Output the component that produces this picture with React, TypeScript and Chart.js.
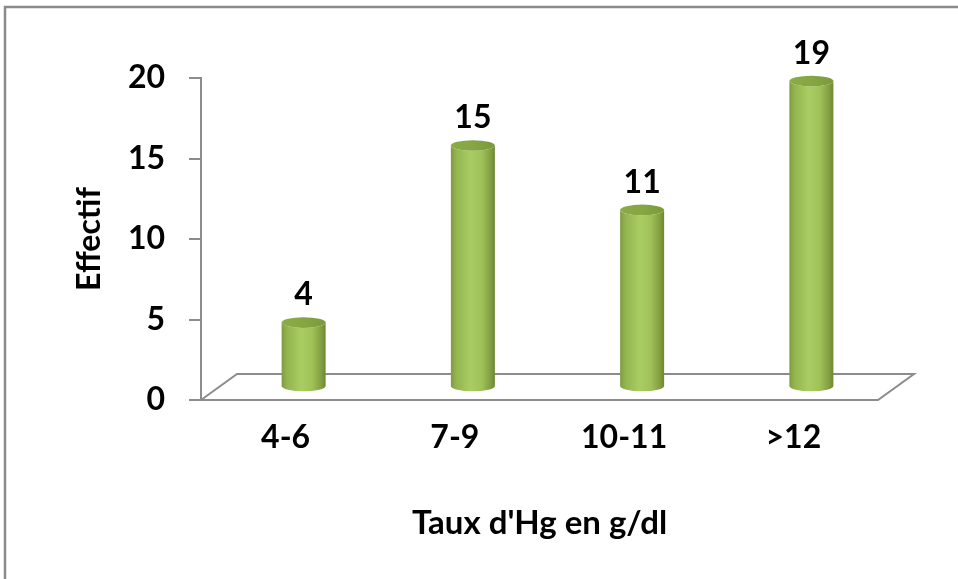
import React, { useEffect, useRef } from "react";
import { Chart, registerables } from "chart.js";

Chart.register(...registerables);

const categories = ["4-6", "7-9", "10-11", ">12"];
const values = [4, 15, 11, 19];
const yMin = 0;
const yMax = 20;
const yStep = 5;
const yTitle = "Effectif";
const xTitle = "Taux d'Hg en g/dl";

const FONT = "Lato, 'Open Sans', sans-serif";
const AXIS_GRAY = "#8c8c8c";
const DEPTH_X = 36;
const DEPTH_Y = 26;

const framePlugin = {
  id: "frame",
  beforeDraw(chart: any) {
    const { ctx, width, height } = chart;
    ctx.save();
    ctx.fillStyle = "#ffffff";
    ctx.fillRect(0, 0, width, height);
    ctx.strokeStyle = "#8a8a8a";
    ctx.lineWidth = 2.5;
    ctx.beginPath();
    ctx.moveTo(5, height);
    ctx.lineTo(5, 7);
    ctx.lineTo(width, 7);
    ctx.stroke();
    ctx.restore();
  },
};

const floorPlugin = {
  id: "floor",
  beforeDatasetsDraw(chart: any) {
    const { ctx } = chart;
    const x = chart.scales.x;
    const y = chart.scales.y;
    const base = y.getPixelForValue(0);
    ctx.save();
    ctx.strokeStyle = AXIS_GRAY;
    ctx.lineWidth = 2;
    ctx.beginPath();
    ctx.moveTo(x.left, base);
    ctx.lineTo(x.left + DEPTH_X, base - DEPTH_Y);
    ctx.lineTo(x.right + DEPTH_X, base - DEPTH_Y);
    ctx.lineTo(x.right, base);
    ctx.closePath();
    ctx.stroke();
    ctx.restore();
  },
};

const cylinderPlugin = {
  id: "cylinders",
  afterDatasetsDraw(chart: any) {
    const { ctx } = chart;
    const meta = chart.getDatasetMeta(0);
    const ds = chart.data.datasets[0];
    meta.data.forEach((el: any, i: number) => {
      const p = el.getProps(["x", "y", "base", "width"], true);
      const cx = p.x + DEPTH_X / 2;
      const top = p.y - DEPTH_Y / 2;
      const bottom = p.base - DEPTH_Y / 2;
      const rx = p.width / 2;
      const ry = rx * 0.24;

      const g = ctx.createLinearGradient(cx - rx, 0, cx + rx, 0);
      g.addColorStop(0, "#7f9c3f");
      g.addColorStop(0.12, "#93b44f");
      g.addColorStop(0.45, "#aacd63");
      g.addColorStop(0.7, "#9fc158");
      g.addColorStop(0.9, "#839f41");
      g.addColorStop(1, "#6d8832");

      ctx.save();
      ctx.beginPath();
      ctx.moveTo(cx - rx, top);
      ctx.lineTo(cx - rx, bottom);
      ctx.ellipse(cx, bottom, rx, ry, 0, Math.PI, 0, true);
      ctx.lineTo(cx + rx, top);
      ctx.ellipse(cx, top, rx, ry, 0, 0, Math.PI, false);
      ctx.closePath();
      ctx.fillStyle = g;
      ctx.fill();

      const tg = ctx.createLinearGradient(cx - rx, top, cx + rx, top);
      tg.addColorStop(0, "#8bab48");
      tg.addColorStop(0.5, "#86a644");
      tg.addColorStop(1, "#7a9a3b");
      ctx.beginPath();
      ctx.ellipse(cx, top, rx, ry, 0, 0, Math.PI * 2);
      ctx.fillStyle = tg;
      ctx.fill();

      ctx.fillStyle = "#000000";
      ctx.font = `bold 32px ${FONT}`;
      ctx.textAlign = "center";
      ctx.textBaseline = "alphabetic";
      ctx.fillText(String(ds.data[i]), cx, top - ry - 12);
      ctx.restore();
    });
  },
};

export default function App() {
  const ref = useRef<HTMLCanvasElement | null>(null);

  useEffect(() => {
    document.body.style.margin = "0";
    const canvas = ref.current;
    if (!canvas) return;
    const chart = new Chart(canvas, {
      type: "bar",
      data: {
        labels: categories,
        datasets: [
          {
            data: values,
            backgroundColor: "rgba(0,0,0,0)",
            borderWidth: 0,
            barPercentage: 0.26,
            categoryPercentage: 1,
          },
        ],
      },
      options: {
        responsive: false,
        devicePixelRatio: 1,
        animation: false,
        layout: { padding: { top: 78, right: 80, bottom: 0, left: 0 } },
        plugins: {
          legend: { display: false },
          tooltip: { enabled: false },
        },
        scales: {
          x: {
            grid: { display: false, drawTicks: false },
            border: { display: false },
            ticks: {
              color: "#000000",
              font: { family: FONT, size: 32, weight: "bold" },
              padding: 18,
            },
            title: {
              display: true,
              text: xTitle,
              color: "#000000",
              font: { family: FONT, size: 33, weight: "bold", lineHeight: 1.2 },
              padding: { top: 0, bottom: 36 },
            },
            afterFit(scale: any) {
              scale.height = 179;
            },
          },
          y: {
            min: yMin,
            max: yMax,
            ticks: {
              stepSize: yStep,
              color: "#000000",
              font: { family: FONT, size: 32, weight: "bold" },
              padding: 24,
            },
            grid: {
              display: true,
              drawOnChartArea: false,
              drawTicks: true,
              tickLength: 12,
              color: AXIS_GRAY,
              lineWidth: 2,
            },
            border: { display: true, color: AXIS_GRAY, width: 2 },
            title: {
              display: true,
              text: yTitle,
              color: "#000000",
              font: { family: FONT, size: 32, weight: "bold", lineHeight: 1.2 },
              padding: { top: 70, bottom: 0 },
            },
            afterFit(scale: any) {
              scale.width = 201;
            },
          },
        },
      },
      plugins: [framePlugin, floorPlugin, cylinderPlugin],
    });
    return () => chart.destroy();
  }, []);

  return (
    <div style={{ width: 958, height: 579, position: "relative" }}>
      <canvas ref={ref} width={958} height={579} style={{ display: "block" }} />
    </div>
  );
}
